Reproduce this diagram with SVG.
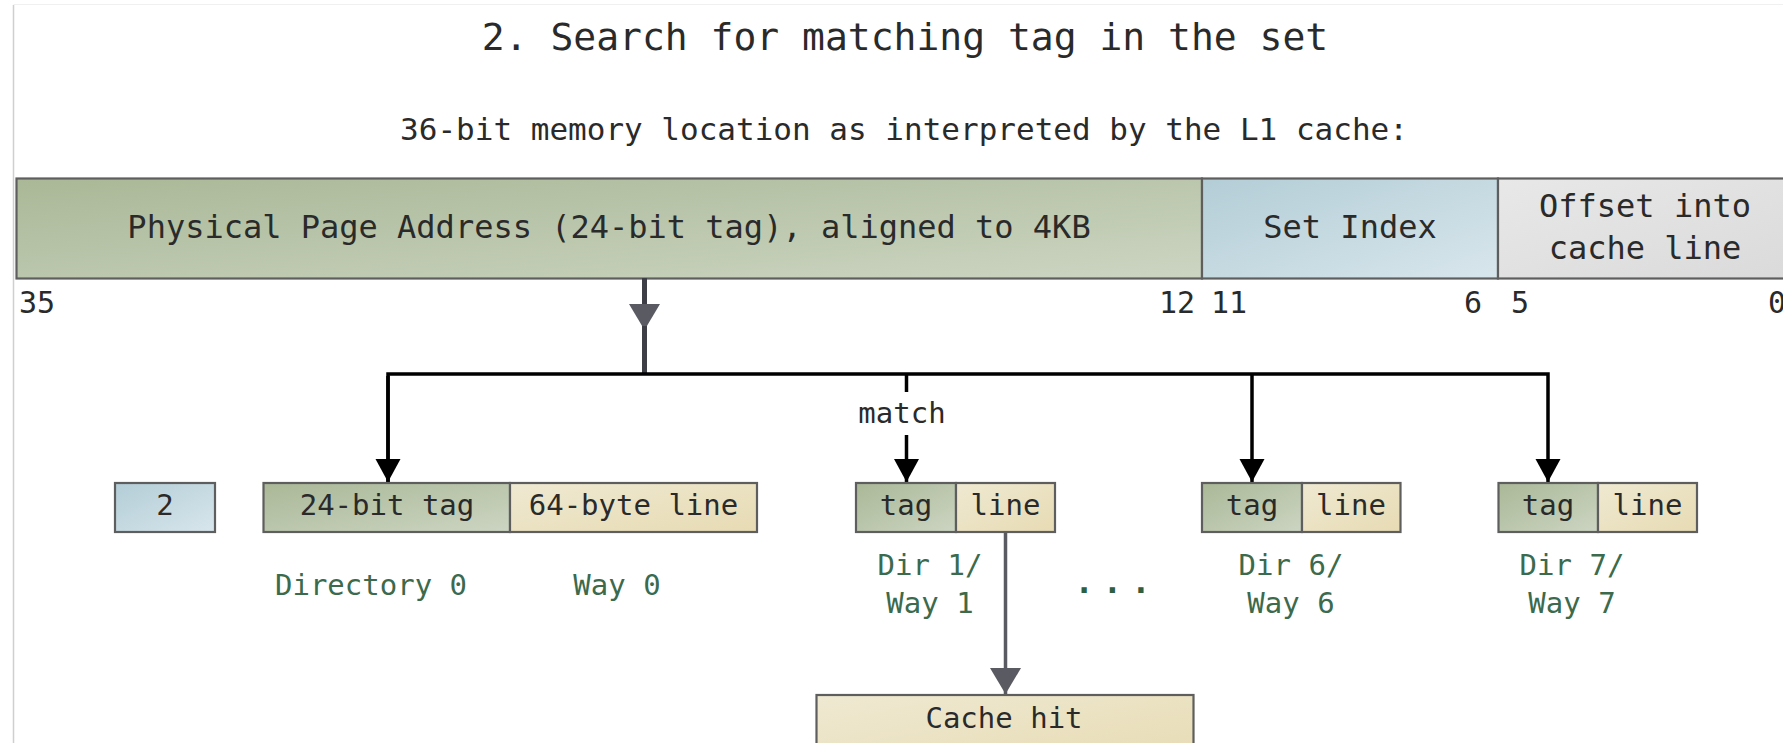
<svg xmlns="http://www.w3.org/2000/svg" width="1783" height="743" viewBox="0 0 1783 743">
  <defs>
    <linearGradient id="gGreen" x1="0" y1="0" x2="1" y2="1">
      <stop offset="0" stop-color="#aab897"/>
      <stop offset="1" stop-color="#ccd5c2"/>
    </linearGradient>
    <linearGradient id="gBlue" x1="0" y1="0" x2="1" y2="1">
      <stop offset="0" stop-color="#b3cdd6"/>
      <stop offset="1" stop-color="#d8e6ec"/>
    </linearGradient>
    <linearGradient id="gGray" x1="0" y1="0" x2="1" y2="1">
      <stop offset="0" stop-color="#e8e8e8"/>
      <stop offset="1" stop-color="#dadada"/>
    </linearGradient>
    <linearGradient id="gBeige" x1="0" y1="0" x2="1" y2="1">
      <stop offset="0" stop-color="#efe9d2"/>
      <stop offset="1" stop-color="#e7dbb3"/>
    </linearGradient>
    <marker id="headBlack" markerUnits="userSpaceOnUse" markerWidth="26" markerHeight="26" refX="23" refY="12.5" orient="auto">
      <path d="M0,0 L23,12.5 L0,25 z" fill="#000"/>
    </marker>
    <marker id="headGray" markerUnits="userSpaceOnUse" markerWidth="30" markerHeight="32" refX="26" refY="15.5" orient="auto">
      <path d="M0,0 L26,15.5 L0,31 z" fill="#5a5a63"/>
    </marker>
  </defs>
  <style>
    text { font-family: "DejaVu Sans Mono", "Liberation Mono", monospace; fill: #2a2a2a; }
    .title { font-size: 38px; }
    .sub { font-size: 31px; }
    .bar { font-size: 32px; text-anchor: middle; }
    .bit { font-size: 30px; }
    .lbl { font-size: 29px; text-anchor: middle; }
    .way { font-size: 29px; text-anchor: middle; fill: #3b6a4c; }
    .dots { font-size: 32px; font-weight: bold; text-anchor: middle; fill: #2f5e40; }
    .cell { stroke: #5e5e5e; stroke-width: 2.2; }
    .green { fill: url(#gGreen); }
    .blue { fill: url(#gBlue); }
    .gray { fill: url(#gGray); }
    .beige { fill: url(#gBeige); }
    .bus { fill: none; stroke: #000; stroke-width: 3.5; }
    .feed { fill: none; stroke: #3e3e46; stroke-width: 5; }
    .hit { fill: none; stroke: #5a5a63; stroke-width: 3.5; }
  </style>

  <rect width="1783" height="743" fill="#fff"/>
  <!-- page frame -->
  <line x1="13.5" y1="5" x2="13.5" y2="743" stroke="#cfcfcf" stroke-width="1.5"/>
  <line x1="13.5" y1="4.5" x2="1783" y2="4.5" stroke="#f0f0f0" stroke-width="1"/>

  <text class="title" x="905" y="50" text-anchor="middle">2. Search for matching tag in the set</text>
  <text class="sub" x="904" y="140" text-anchor="middle">36-bit memory location as interpreted by the L1 cache:</text>

  <!-- address layout -->
  <g id="addr-tag">
    <rect class="cell green" x="16.5" y="178.5" width="1185.5" height="100"/>
    <text class="bar" x="609" y="238">Physical Page Address (24-bit tag), aligned to 4KB</text>
  </g>
  <g id="addr-set">
    <rect class="cell blue" x="1202" y="178.5" width="296" height="100"/>
    <text class="bar" x="1350" y="238">Set Index</text>
  </g>
  <g id="addr-offset">
    <rect class="cell gray" x="1498" y="178.5" width="300" height="100"/>
    <text class="bar" x="1645" y="217">Offset into</text>
    <text class="bar" x="1645" y="259">cache line</text>
  </g>
  <g id="bit-numbers">
    <text class="bit" x="19" y="313">35</text>
    <text class="bit" x="1195" y="313" text-anchor="end">12</text>
    <text class="bit" x="1211" y="313">11</text>
    <text class="bit" x="1482" y="313" text-anchor="end">6</text>
    <text class="bit" x="1511" y="313">5</text>
    <text class="bit" x="1768" y="313">0</text>
  </g>

  <!-- connectors -->
  <g id="connectors">
    <line class="feed" x1="644.5" y1="278" x2="644.5" y2="330" marker-end="url(#headGray)"/>
    <line class="feed" x1="644.5" y1="326" x2="644.5" y2="375"/>
    <path class="bus" d="M388,482 V374 H1548 V482" marker-end="url(#headBlack)"/>
    <line class="bus" x1="388" y1="376" x2="388" y2="482" marker-end="url(#headBlack)"/>
    <line class="bus" x1="906.5" y1="374" x2="906.5" y2="392"/>
    <line class="bus" x1="906.5" y1="435" x2="906.5" y2="482" marker-end="url(#headBlack)"/>
    <line class="bus" x1="1252" y1="374" x2="1252" y2="482" marker-end="url(#headBlack)"/>
    <line class="hit" x1="1005.5" y1="532" x2="1005.5" y2="694" marker-end="url(#headGray)"/>
  </g>
  <text class="lbl" x="902" y="423">match</text>

  <!-- set index value -->
  <g id="set-value">
    <rect class="cell blue" x="115" y="483" width="100" height="49"/>
    <text class="lbl" x="165" y="515">2</text>
  </g>

  <!-- ways of the selected set -->
  <g id="way0">
    <rect class="cell green" x="263.5" y="483" width="246.5" height="49"/>
    <rect class="cell beige" x="510" y="483" width="247" height="49"/>
    <text class="lbl" x="387" y="515">24-bit tag</text>
    <text class="lbl" x="633.5" y="515">64-byte line</text>
    <text class="way" x="371" y="595">Directory 0</text>
    <text class="way" x="617" y="595">Way 0</text>
  </g>
  <g id="way1">
    <rect class="cell green" x="856" y="483" width="100" height="49"/>
    <rect class="cell beige" x="956" y="483" width="99" height="49"/>
    <text class="lbl" x="906" y="515">tag</text>
    <text class="lbl" x="1005.5" y="515">line</text>
    <text class="way" x="930" y="575">Dir 1/</text>
    <text class="way" x="930" y="613">Way 1</text>
  </g>
  <text class="dots" x="1117" y="593" letter-spacing="9">...</text>
  <g id="way6">
    <rect class="cell green" x="1202" y="483" width="100" height="49"/>
    <rect class="cell beige" x="1302" y="483" width="98.5" height="49"/>
    <text class="lbl" x="1252" y="515">tag</text>
    <text class="lbl" x="1351" y="515">line</text>
    <text class="way" x="1291" y="575">Dir 6/</text>
    <text class="way" x="1291" y="613">Way 6</text>
  </g>
  <g id="way7">
    <rect class="cell green" x="1498.5" y="483" width="99.5" height="49"/>
    <rect class="cell beige" x="1598" y="483" width="99" height="49"/>
    <text class="lbl" x="1548" y="515">tag</text>
    <text class="lbl" x="1647.5" y="515">line</text>
    <text class="way" x="1572" y="575">Dir 7/</text>
    <text class="way" x="1572" y="613">Way 7</text>
  </g>

  <g id="cache-hit">
    <rect class="cell beige" x="816.5" y="695" width="377" height="70"/>
    <text class="lbl" x="1004" y="728">Cache hit</text>
  </g>
</svg>
